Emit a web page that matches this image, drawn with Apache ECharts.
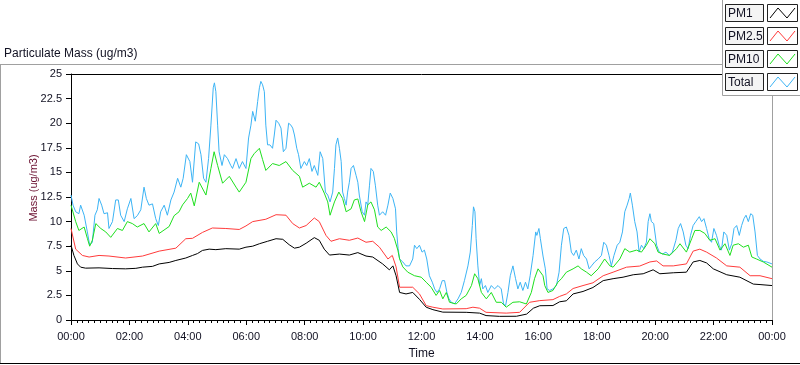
<!DOCTYPE html>
<html>
<head>
<meta charset="utf-8">
<script src="https://cdn.jsdelivr.net/npm/echarts@6/dist/echarts.min.js"></script>
<style>
html,body{margin:0;padding:0;background:#fff;}
#chart{width:800px;height:365px;}
</style>
</head>
<body>
<div id="chart"></div>
<script>
// ---- data: [hour of day, value in ug/m3] ----
const seriesNames = ['PM1', 'PM2.5', 'PM10', 'Total'];
const xTickHours = [0, 2, 4, 6, 8, 10, 12, 14, 16, 18, 20, 22, 24];
const yTicks = [0, 2.5, 5, 7.5, 10, 12.5, 15, 17.5, 20, 22.5, 25];

const pm1Data = [
[0,7.6],[0.1,6.56],[0.22,5.7],[0.33,5.37],[0.5,5.27],[0.96,5.3],[1.42,5.23],[1.87,5.2],[2.22,5.25],[2.45,5.37],
[2.79,5.45],[3.02,5.7],[3.36,5.85],[3.59,6.05],[3.93,6.3],[4.16,6.56],[4.33,6.75],[4.5,7.07],[4.73,7.2],[4.96,7.15],
[5.3,7.25],[5.76,7.2],[5.99,7.4],[6.22,7.5],[6.45,7.75],[6.73,8.0],[7.02,8.26],[7.25,8.2],[7.47,7.65],[7.65,7.3],
[7.82,7.4],[8.05,7.8],[8.33,8.37],[8.5,8.1],[8.67,7.2],[8.85,6.6],[9.19,6.7],[9.53,6.6],[9.82,6.85],[10.1,6.5],
[10.33,6.4],[10.67,5.7],[10.9,5.1],[11.02,5.5],[11.13,4.5],[11.25,2.8],[11.47,2.65],[11.7,2.8],[11.93,2.1],[12.16,1.3],
[12.39,1.05],[12.73,0.8],[13.53,0.78],[13.99,0.7],[14.21,0.45],[14.67,0.37],[15.25,0.38],[15.6,0.6],[15.83,1.2],[16.05,1.45],
[16.5,1.47],[16.73,1.85],[16.96,1.95],[17.19,2.65],[17.53,2.9],[17.87,3.3],[18.22,4.0],[18.56,4.2],[18.9,4.35],[19.25,4.6],
[19.59,4.7],[19.93,5.1],[20.16,4.7],[20.62,4.8],[21.07,4.86],[21.3,5.9],[21.53,6.05],[21.76,5.8],[21.99,5.2],[22.45,4.6],
[22.9,4.35],[23.36,3.65],[23.59,3.6],[24,3.5]
];

const pm25Data = [
[0,9.3],[0.16,7.2],[0.39,6.56],[0.62,6.4],[0.96,6.56],[1.3,6.5],[1.87,6.3],[2.45,6.5],[3.02,7.0],[3.59,7.3],
[3.93,8.26],[4.16,8.3],[4.5,8.9],[4.84,9.35],[5.3,9.3],[5.76,9.2],[5.99,9.56],[6.22,10.0],[6.67,10.24],[7.02,10.7],
[7.36,10.65],[7.59,9.8],[7.82,9.35],[8.05,9.6],[8.33,10.37],[8.5,10.0],[8.73,8.6],[8.9,8.0],[9.19,8.26],[9.53,8.1],
[9.82,8.33],[10.1,7.9],[10.33,8.0],[10.56,7.4],[10.85,6.2],[11.0,6.56],[11.13,5.4],[11.25,3.33],[11.7,3.33],[11.93,2.65],
[12.16,1.46],[12.39,1.3],[12.73,1.12],[13.53,1.15],[13.76,1.3],[13.99,1.2],[14.21,0.78],[14.9,0.7],[15.36,0.78],[15.7,1.8],
[16.05,1.97],[16.5,2.07],[16.73,2.4],[16.96,2.65],[17.19,3.2],[17.53,3.5],[17.87,3.78],[18.22,4.5],[18.56,4.86],[19.02,5.37],
[19.47,5.48],[19.82,5.9],[20.05,6.0],[20.27,5.5],[20.62,5.5],[21.07,5.7],[21.3,7.0],[21.53,7.2],[21.76,6.9],[22.1,6.3],
[22.45,5.5],[22.9,5.37],[23.25,4.5],[23.59,4.5],[24,4.2]
];

const pm10Data = [
[0,11.67],[0.16,10.0],[0.27,9.1],[0.45,9.45],[0.56,8.3],[0.64,7.5],[0.73,8.1],[0.85,9.8],[1.02,9.3],[1.19,8.95],
[1.36,8.4],[1.59,9.3],[1.76,9.1],[1.93,10.0],[2.1,9.8],[2.27,9.45],[2.5,9.8],[2.67,8.95],[2.9,9.8],[3.02,8.8],
[3.36,9.5],[3.53,10.6],[3.7,11.0],[3.82,11.7],[3.99,12.35],[4.1,12.9],[4.22,11.6],[4.39,14.0],[4.62,12.7],[4.79,15.4],
[4.9,17.1],[5.02,15.7],[5.19,13.9],[5.42,14.6],[5.65,13.5],[5.76,13.0],[5.99,14.0],[6.16,16.4],[6.27,16.9],[6.45,17.45],
[6.56,16.3],[6.67,15.2],[6.9,15.9],[7.13,15.7],[7.36,16.1],[7.59,15.2],[7.82,14.6],[7.93,13.5],[8.16,13.9],[8.39,13.5],
[8.5,14.0],[8.67,12.9],[8.79,12.0],[8.87,10.65],[9.02,12.0],[9.17,13.0],[9.3,12.35],[9.42,11.0],[9.59,11.3],[9.7,12.2],
[9.82,12.3],[9.93,11.0],[10.05,10.0],[10.16,11.7],[10.27,12.0],[10.39,11.2],[10.5,9.45],[10.62,9.1],[10.79,9.45],[10.96,8.95],
[11.07,8.3],[11.19,7.1],[11.25,6.2],[11.36,5.4],[11.53,4.86],[11.76,4.5],[11.99,4.35],[12.16,3.84],[12.33,3.33],[12.5,2.5],
[12.62,3.0],[12.73,2.15],[12.85,2.8],[12.96,1.8],[13.19,1.63],[13.36,2.15],[13.53,2.5],[13.71,3.5],[13.82,4.7],[13.93,4.2],
[14.05,2.8],[14.22,2.15],[14.39,2.8],[14.56,1.8],[14.73,1.8],[14.9,1.3],[15.13,1.8],[15.36,1.85],[15.59,1.63],[15.76,2.8],
[15.87,4.2],[15.99,5.2],[16.05,5.0],[16.16,4.5],[16.22,3.5],[16.33,2.8],[16.5,3.0],[16.67,3.84],[16.79,4.2],[16.96,4.86],
[17.19,5.2],[17.36,5.5],[17.47,5.2],[17.65,4.86],[17.81,4.5],[18.05,5.2],[18.27,6.2],[18.45,5.5],[18.56,5.37],[18.79,6.2],
[18.96,7.25],[19.13,6.9],[19.36,7.1],[19.53,6.9],[19.7,7.6],[19.82,8.26],[19.99,7.75],[20.1,6.9],[20.27,6.7],[20.5,6.56],
[20.73,7.25],[20.85,7.75],[21.07,6.9],[21.25,8.26],[21.36,9.1],[21.53,9.1],[21.7,8.8],[21.87,8.1],[22.05,8.26],[22.22,7.1],
[22.39,7.75],[22.56,6.56],[22.67,7.6],[22.85,7.75],[23.02,7.4],[23.19,7.6],[23.31,6.4],[23.47,6.2],[23.7,5.9],[24,5.37]
];

const totalData = [
[0,12.7],[0.07,11.67],[0.16,11.0],[0.27,10.8],[0.33,11.67],[0.45,10.65],[0.56,8.95],[0.64,7.6],[0.73,7.9],[0.82,10.65],
[0.9,11.2],[0.96,12.35],[1.05,11.67],[1.13,10.8],[1.25,10.9],[1.3,9.3],[1.42,10.0],[1.53,12.2],[1.62,12.2],[1.7,10.65],
[1.82,10.0],[1.93,11.3],[2.05,12.35],[2.16,10.3],[2.27,10.6],[2.39,11.2],[2.5,13.5],[2.58,12.35],[2.67,11.67],[2.79,11.8],
[2.9,10.3],[2.99,9.6],[3.07,11.0],[3.19,11.67],[3.3,10.65],[3.42,12.2],[3.53,13.0],[3.65,14.4],[3.76,13.5],[3.84,14.4],
[3.95,16.8],[4.07,16.1],[4.16,14.0],[4.27,18.1],[4.37,17.9],[4.45,16.8],[4.54,14.4],[4.62,14.0],[4.71,16.4],[4.79,19.8],
[4.87,23.6],[4.91,24.1],[4.96,23.2],[5.02,19.8],[5.07,17.1],[5.17,15.7],[5.25,16.8],[5.36,16.4],[5.47,15.7],[5.53,15.4],
[5.65,16.4],[5.76,15.4],[5.87,16.1],[5.99,15.4],[6.08,18.5],[6.16,19.8],[6.22,21.2],[6.31,20.2],[6.39,22.2],[6.45,23.6],
[6.5,24.25],[6.56,23.9],[6.62,23.2],[6.67,19.8],[6.73,17.8],[6.81,17.8],[6.9,17.45],[6.96,18.8],[7.02,20.3],[7.11,20.0],
[7.19,19.5],[7.27,17.1],[7.36,17.45],[7.45,20.0],[7.53,19.8],[7.59,19.5],[7.65,18.8],[7.73,17.45],[7.79,16.8],[7.87,15.4],
[7.99,16.1],[8.07,15.7],[8.16,16.4],[8.25,15.1],[8.33,15.7],[8.45,14.7],[8.53,17.1],[8.62,16.4],[8.71,13.0],[8.79,12.7],
[8.87,12.0],[8.96,13.0],[9.02,15.4],[9.07,17.8],[9.13,18.5],[9.19,17.45],[9.25,16.1],[9.3,13.0],[9.36,12.35],[9.42,11.67],
[9.47,13.0],[9.53,14.0],[9.59,15.4],[9.67,15.7],[9.76,14.7],[9.82,14.0],[9.87,12.7],[9.97,11.0],[10.05,10.65],[10.1,12.0],
[10.16,11.7],[10.22,13.7],[10.27,15.4],[10.35,15.1],[10.42,13.7],[10.5,11.67],[10.56,10.65],[10.67,11.0],[10.77,10.65],[10.85,11.67],
[10.93,12.9],[11.02,12.35],[11.11,11.3],[11.15,8.95],[11.2,7.25],[11.25,6.2],[11.36,5.9],[11.47,5.5],[11.59,5.5],[11.7,6.2],
[11.76,7.6],[11.84,7.25],[11.93,7.6],[12.02,6.9],[12.1,7.1],[12.18,6.2],[12.27,4.5],[12.37,3.84],[12.45,3.16],[12.53,2.8],
[12.62,3.16],[12.71,4.0],[12.79,4.0],[12.87,2.8],[12.94,2.15],[13.02,1.8],[13.13,1.63],[13.25,2.15],[13.36,2.8],[13.47,4.0],
[13.59,5.5],[13.67,6.9],[13.74,9.6],[13.78,11.5],[13.83,11.0],[13.87,8.26],[13.93,5.5],[13.99,3.5],[14.05,4.2],[14.1,3.16],
[14.19,3.5],[14.27,2.8],[14.39,3.5],[14.5,3.16],[14.62,3.5],[14.73,3.16],[14.81,1.63],[14.88,1.46],[14.96,2.8],[15.04,4.5],
[15.13,5.5],[15.22,4.2],[15.3,3.16],[15.38,3.84],[15.47,3.0],[15.56,3.84],[15.64,3.16],[15.72,4.5],[15.82,6.56],[15.91,8.95],
[15.95,8.6],[16.02,9.3],[16.07,8.26],[16.16,6.5],[16.24,5.2],[16.3,3.16],[16.39,3.0],[16.5,3.16],[16.62,3.5],[16.71,4.86],
[16.79,7.6],[16.87,9.3],[16.96,9.45],[17.05,8.6],[17.13,6.9],[17.21,6.56],[17.3,7.1],[17.39,6.2],[17.47,7.25],[17.55,6.56],
[17.65,6.2],[17.74,5.2],[17.82,5.5],[17.93,5.9],[18.05,6.2],[18.16,6.56],[18.24,7.9],[18.33,7.6],[18.42,6.56],[18.5,5.5],
[18.59,6.56],[18.7,7.6],[18.79,7.9],[18.88,8.95],[18.96,11.0],[19.04,11.67],[19.11,12.35],[19.15,12.9],[19.22,11.67],[19.3,10.0],
[19.38,8.95],[19.45,6.9],[19.53,7.6],[19.61,7.25],[19.7,7.9],[19.76,10.0],[19.82,10.8],[19.87,10.0],[19.95,9.8],[20.05,7.6],
[20.14,6.9],[20.25,6.7],[20.37,6.9],[20.48,6.56],[20.59,6.9],[20.71,8.1],[20.79,9.3],[20.87,9.8],[20.96,8.95],[21.05,7.6],
[21.13,7.25],[21.21,8.6],[21.3,9.6],[21.39,10.0],[21.51,10.5],[21.59,10.0],[21.67,10.3],[21.76,9.3],[21.85,8.26],[21.93,7.9],
[22.01,9.3],[22.1,8.6],[22.19,7.6],[22.27,7.1],[22.35,8.95],[22.45,8.6],[22.54,7.1],[22.62,7.75],[22.7,9.3],[22.79,9.6],
[22.88,8.6],[22.96,9.6],[23.04,10.3],[23.11,10.65],[23.19,10.0],[23.27,10.8],[23.34,10.65],[23.42,8.95],[23.5,6.56],[23.59,6.2],
[23.71,5.95],[23.82,5.9],[24,5.7]
];

// ---- styling ----
const colors = {PM1:'#000000', 'PM2.5':'#ff3b3b', PM10:'#1ee01e', Total:'#3cb4f5'};
const dataByName = {PM1:pm1Data, 'PM2.5':pm25Data, PM10:pm10Data, Total:totalData};
const FONT = '"Liberation Sans", Arial, sans-serif';
const TXT = '#111122';

function fmtHour(v){ const h = Math.round(v) % 24; return (h < 10 ? '0' : '') + h + ':00'; }

const chart = echarts.init(document.getElementById('chart'), null, {renderer:'canvas'});

// draw order: Total behind, PM1 on top
const drawOrder = ['Total', 'PM10', 'PM2.5', 'PM1'];
const series = drawOrder.map(n => ({
  name: n, type: 'line', data: dataByName[n], xAxisIndex: 0, yAxisIndex: 0,
  showSymbol: false, symbol: 'none', smooth: false,
  lineStyle: {color: colors[n], width: 1}, itemStyle: {color: colors[n]},
  animation: false, silent: true
}));

// legend built as graphic (LabVIEW-style plot legend)
const legendGraphics = [];
legendGraphics.push({type:'rect', shape:{x:722.5, y:-1, width:80, height:96.5},
  style:{fill:'#ffffff', stroke:'#a0a0a0', lineWidth:1}, z:100});
const rowTops = [4, 27, 50, 73];
seriesNames.forEach((n, i) => {
  const y = rowTops[i];
  legendGraphics.push({type:'rect', shape:{x:725.5, y:y+0.5, width:38, height:17},
    style:{fill:'#f4f4f4', stroke:'#222', lineWidth:1}, z:101});
  legendGraphics.push({type:'text', x:728, y:y+9.5,
    style:{text:n, font:'12px ' + FONT, fill:TXT, verticalAlign:'middle', align:'left'}, z:102});
  legendGraphics.push({type:'rect', shape:{x:767.5, y:y+0.5, width:30, height:17},
    style:{fill:'#ffffff', stroke:'#222', lineWidth:1}, z:101});
  legendGraphics.push({type:'polyline', shape:{points:[[770,y+14],[778,y+4],[787,y+14],[795,y+4]]},
    style:{stroke:colors[n], lineWidth:1, fill:null}, z:102});
});

const option = {
  backgroundColor: '#ffffff',
  animation: false,
  grid: {left:71, right:28, top:74, bottom:44, containLabel:false},
  xAxis: [{
    type:'value', min:0, max:24, interval:2, position:'bottom',
    name:'Time', nameLocation:'middle', nameGap:28, nameMoveOverlap:false,
    nameTextStyle:{fontFamily:FONT, fontSize:12, color:TXT},
    axisLine:{show:true, onZero:false, lineStyle:{color:'#000', width:1}},
    axisTick:{show:true, inside:false, length:5, lineStyle:{color:'#000'}},
    minorTick:{show:true, splitNumber:10, length:3, lineStyle:{color:'#000'}},
    axisLabel:{formatter:fmtHour, fontFamily:FONT, fontSize:11, color:TXT, margin:11},
    splitLine:{show:false}
  },{
    type:'value', min:0, max:24, position:'top',
    axisLine:{show:true, onZero:false, lineStyle:{color:'#000', width:1}},
    axisTick:{show:false}, axisLabel:{show:false}, splitLine:{show:false}
  }],
  yAxis: [{
    type:'value', min:0, max:25, interval:2.5, position:'left',
    name:'Mass (ug/m3)', nameLocation:'middle', nameGap:32, nameMoveOverlap:false,
    nameTextStyle:{fontFamily:FONT, fontSize:11, color:'#6a1030', padding:[0,0,0,18]},
    axisLine:{show:true, onZero:false, lineStyle:{color:'#000', width:1}},
    axisTick:{show:true, length:5, lineStyle:{color:'#000'}},
    axisLabel:{fontFamily:FONT, fontSize:11, color:TXT, margin:9},
    splitLine:{show:false}
  },{
    type:'value', min:0, max:25, position:'right',
    axisLine:{show:true, onZero:false, lineStyle:{color:'#a0a0a0', width:1}},
    axisTick:{show:false}, axisLabel:{show:false}, splitLine:{show:false}
  }],
  series: series,
  graphic: [
    {type:'text', x:4, y:54, style:{text:'Particulate Mass (ug/m3)', font:'12px ' + FONT, fill:TXT, verticalAlign:'middle'}, z:50},
    {type:'line', shape:{x1:0, y1:64.5, x2:722, y2:64.5}, style:{stroke:'#a0a0a0', lineWidth:1}, z:50},
    {type:'line', shape:{x1:0.5, y1:64, x2:0.5, y2:363}, style:{stroke:'#a0a0a0', lineWidth:1}, z:50},
    {type:'line', shape:{x1:0, y1:363.5, x2:800, y2:363.5}, style:{stroke:'#000', lineWidth:1}, z:50}
  ].concat(legendGraphics)
};
chart.setOption(option);
</script>
</body>
</html>
